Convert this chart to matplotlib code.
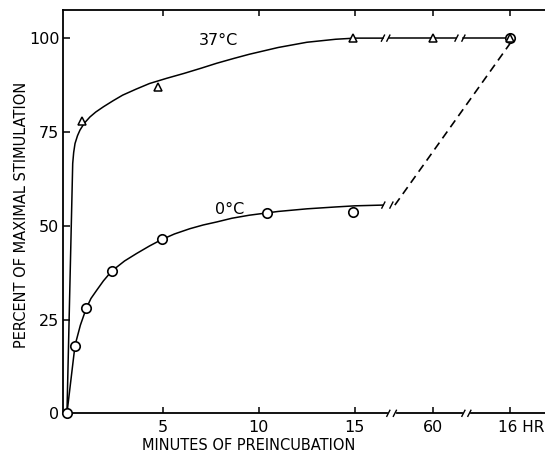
import numpy as np
import matplotlib
matplotlib.use('Agg')
import matplotlib.pyplot as plt
from matplotlib.transforms import ScaledTranslation

# x axis is broken: 0-15 min on a linear scale, then 60 min and 16 hr
# placed at fixed positions after the breaks (positions in "minute" units)
tick_pos = [5, 10, 15, 19.06, 23.07]
tick_labels = ['5', '10', '15', '60', '16 HR']
y_ticks = [0, 25, 50, 75, 100]

# measured points
tri_x = [0.77, 4.75, 14.9, 19.06, 23.07]      # 37 C
tri_y = [78, 87, 100, 100, 100]
circ_x = [0, 0.42, 1.0, 2.35, 4.93, 10.4, 14.9, 23.07]   # 0 C
circ_y = [0, 18, 28, 38, 46.5, 53.3, 53.7, 100]

# hand drawn curves
c37_x = [0, 0.3, 0.35, 0.42, 0.55, 0.68, 0.9, 1.2, 1.5, 1.9, 2.4, 2.9, 3.6,
         4.3, 5.2, 6.1, 7.0, 7.8, 8.7, 9.5, 11.0, 12.5, 14.0, 15.0, 16.46]
c37_y = [0, 66.6, 69.5, 71.9, 74.0, 75.5, 77.3, 79.0, 80.3, 81.7, 83.3, 84.8, 86.4,
         87.9, 89.3, 90.6, 92.0, 93.3, 94.6, 95.7, 97.5, 98.9, 99.7, 100, 100]
c37_seg2 = [16.75, 20.29]
c37_seg3 = [20.65, 23.07]
c0_x = [0, 0.42, 0.7, 1.0, 1.25, 1.55, 1.9, 2.33, 3.0, 3.63, 4.3, 4.93, 5.6,
        6.4, 7.1, 7.8, 8.6, 9.5, 11.0, 12.5, 14.0, 15.0, 16.46]
c0_y = [0, 18.1, 23.5, 27.9, 30.6, 32.8, 35.3, 37.9, 40.6, 42.6, 44.6, 46.3, 47.8,
        49.2, 50.2, 51.0, 52.0, 52.8, 53.8, 54.5, 55.0, 55.3, 55.5]
dash_x = [17.08, 23.07]
dash_y = [55.5, 98.5]

plt.rcParams['font.family'] = 'DejaVu Sans'

fig = plt.figure(figsize=(5.45, 4.58), dpi=100)
ax = fig.add_axes([0.1165, 0.0976, 0.8835, 0.8806])
ax.set_xlim(-0.18, 24.9)
ax.set_ylim(0, 107.5)

lw = 1.1
ax.plot(c37_x, c37_y, color='black', lw=lw)
ax.plot(c37_seg2, [100, 100], color='black', lw=lw)
ax.plot(c37_seg3, [100, 100], color='black', lw=lw)
ax.plot(c0_x, c0_y, color='black', lw=lw)
ax.plot(dash_x, dash_y, color='black', lw=1.2, dashes=(5, 3.2))

ax.plot(circ_x, circ_y, 'o', ms=6.8, mfc='white', mec='black', mew=1.2, clip_on=False, zorder=5)
ax.plot(tri_x, tri_y, '^', ms=5.5, mfc='white', mec='black', mew=1.1, clip_on=False, zorder=6)


def slash(x, y, **kw):
    # little "/" break marks
    ax.plot([x - 0.08, x + 0.08], [y - 0.8, y + 0.8], color='black', lw=1.0,
            clip_on=False, **kw)


for sx in [16.46, 16.74, 20.29, 20.65]:
    slash(sx, 100)
for sx in [16.48, 16.9]:
    slash(sx, 55.5)

# bottom axis drawn by hand because of the breaks
ax.spines['bottom'].set_visible(False)
ax.spines['right'].set_visible(False)
for a, b in [(-0.18, 16.65), (17.19, 20.56), (21.04, 24.9)]:
    ax.plot([a, b], [0, 0], color='black', lw=1.3, clip_on=False, zorder=4)
for sx in [16.74, 17.08, 20.65, 20.96]:
    slash(sx, 0, zorder=4)

for s in ['left', 'top']:
    ax.spines[s].set_linewidth(1.3)

ax.set_xticks(tick_pos)
ax.set_xticklabels(tick_labels)
ax.set_yticks(y_ticks)
ax.set_yticklabels([str(v) for v in y_ticks])
ax.tick_params(axis='x', direction='in', length=4, width=1.1, pad=5, labelsize=11.5,
               top=True, bottom=True)
ax.tick_params(axis='y', direction='in', length=5, width=1.1, pad=3, labelsize=11.5)

# shift "16 HR" so that the 16 sits under its tick
lab = ax.get_xticklabels()[-1]
lab.set_fontsize(11)
lab.set_transform(lab.get_transform() + ScaledTranslation(0.11, 0, fig.dpi_scale_trans))

ax.text(7.9, 99.3, '37°C', fontsize=11.5, ha='center', va='center')
ax.text(8.45, 54.3, '0°C', fontsize=11.5, ha='center', va='center')

fig.text(22 / 545, 1 - 215 / 458, 'PERCENT OF MAXIMAL STIMULATION', rotation=90,
         ha='center', va='center', fontsize=10.5)
fig.text(249 / 545, 1 - 446 / 458, 'MINUTES OF PREINCUBATION', ha='center', va='center',
         fontsize=10.5)

fig.savefig('out.png', dpi=100)
